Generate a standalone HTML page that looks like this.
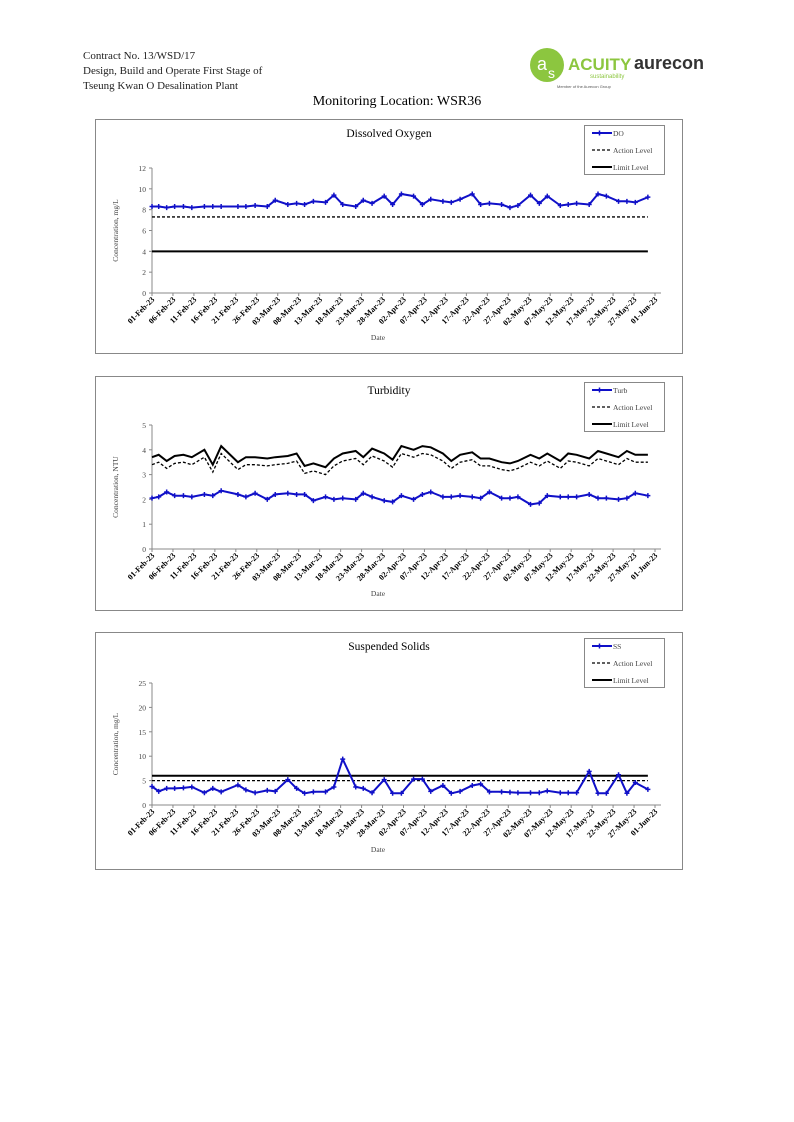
<!DOCTYPE html>
<html><head><meta charset="utf-8"><style>
body{margin:0;background:#fff;}
#p{position:relative;width:794px;height:1122px;font-family:"Liberation Serif",serif;}
.hd{position:absolute;left:83px;top:49px;font-size:11px;line-height:15px;color:#222;}
svg{position:absolute;left:0;top:0}
</style></head><body><div id="p">
<div class="hd">Contract No. 13/WSD/17<br>Design, Build and Operate First Stage of<br>Tseung Kwan O Desalination Plant</div>
<svg id="s" width="794" height="1122" xmlns="http://www.w3.org/2000/svg" font-family="Liberation Serif, serif">
<circle cx="547" cy="65" r="17" fill="#8cc63f"/>
<text x="537" y="70" font-size="18" fill="#fff" font-family="Liberation Sans">a</text>
<text x="548" y="78" font-size="14" fill="#fff" font-family="Liberation Sans">s</text>
<text x="568" y="70" font-size="17" fill="#8cc63f" font-family="Liberation Sans" font-weight="bold">ACUITY</text>
<text x="590" y="78" font-size="6" fill="#8cc63f" font-family="Liberation Sans">sustainability</text>
<text x="557" y="88" font-size="4" fill="#555" font-family="Liberation Sans">Member of the Aurecon Group</text>
<text x="634" y="69" font-size="18" fill="#333" font-family="Liberation Sans" font-weight="bold">aurecon</text>
<text x="397" y="105" font-size="14" text-anchor="middle" fill="#000">Monitoring Location: WSR36</text>
</svg></div>
<script>
const S=document.getElementById('s');let h='';
const days=[0,1.6,3.5,5.4,7.5,9.5,12.5,14.5,16.5,20.5,22.4,24.6,27.5,29.4,32.4,34.5,36.4,38.5,41.4,43.4,45.5,48.6,50.4,52.5,55.4,57.4,59.5,62.4,64.5,66.5,69.4,71.4,73.5,76.4,78.4,80.5,83.4,85.4,87.3,90.3,92.4,94.3,97.4,99.3,101.3,104.3,106.4,108.4,111.3,113.3,115.3,118.3];
const DO=[8.3,8.3,8.2,8.3,8.3,8.2,8.3,8.3,8.3,8.3,8.3,8.4,8.3,8.9,8.5,8.6,8.5,8.8,8.7,9.4,8.5,8.3,8.9,8.6,9.3,8.5,9.5,9.3,8.5,9.0,8.8,8.7,9.0,9.5,8.5,8.6,8.5,8.2,8.4,9.4,8.6,9.3,8.4,8.5,8.6,8.5,9.5,9.3,8.8,8.8,8.7,9.2];
const TU=[2.05,2.1,2.3,2.15,2.15,2.1,2.2,2.15,2.35,2.2,2.1,2.25,2.0,2.2,2.25,2.2,2.2,1.95,2.1,2.0,2.05,2.0,2.25,2.1,1.95,1.9,2.15,2.0,2.2,2.3,2.1,2.1,2.15,2.1,2.05,2.3,2.05,2.05,2.1,1.8,1.85,2.15,2.1,2.1,2.1,2.2,2.05,2.05,2.0,2.05,2.25,2.15];
const LI=[3.7,3.8,3.55,3.75,3.8,3.7,4.0,3.4,4.15,3.5,3.7,3.7,3.65,3.7,3.75,3.85,3.35,3.45,3.3,3.65,3.85,3.95,3.7,4.05,3.85,3.6,4.15,4.0,4.15,4.1,3.85,3.55,3.8,3.9,3.65,3.65,3.5,3.45,3.55,3.8,3.65,3.85,3.55,3.85,3.8,3.65,3.95,3.85,3.7,3.95,3.8,3.8];
const AC=LI.map(v=>v-0.3);
const SS=[3.8,2.8,3.4,3.4,3.5,3.7,2.5,3.4,2.7,4.1,3.1,2.5,3.0,2.8,5.2,3.4,2.4,2.7,2.7,3.7,9.4,3.7,3.4,2.5,5.2,2.4,2.4,5.3,5.3,2.8,4.0,2.4,2.8,4.0,4.3,2.7,2.7,2.6,2.5,2.5,2.5,2.9,2.5,2.5,2.5,6.9,2.4,2.4,6.2,2.4,4.6,3.2];
const dl=['01-Feb-23','06-Feb-23','11-Feb-23','16-Feb-23','21-Feb-23','26-Feb-23','03-Mar-23','08-Mar-23','13-Mar-23','18-Mar-23','23-Mar-23','28-Mar-23','02-Apr-23','07-Apr-23','12-Apr-23','17-Apr-23','22-Apr-23','27-Apr-23','02-May-23','07-May-23','12-May-23','17-May-23','22-May-23','27-May-23','01-Jun-23'];
function chart(o){
 const X0=152,X1=655,bt=o.top,y0=o.y0,y1=o.y1,mx=o.max,st=o.step;
 const X=d=>X0+(X1-X0)*d/120,Y=v=>y0-(y0-y1)*v/mx;
 h+=`<rect x="95.5" y="${bt+.5}" width="587" height="${o.h}" fill="#fff" stroke="#888"/>`;
 h+=`<text x="389" y="${bt+18}" font-size="11.5" text-anchor="middle">${o.t}</text>`;
 h+=`<line x1="${X0}" y1="${y1}" x2="${X0}" y2="${y0}" stroke="#888"/><line x1="${X0}" y1="${y0}" x2="${X1+6}" y2="${y0}" stroke="#888"/>`;
 for(let v=0;v<=mx;v+=st){h+=`<line x1="${X0-3}" x2="${X0}" y1="${Y(v)}" y2="${Y(v)}" stroke="#888"/><text x="${X0-6}" y="${Y(v)+3}" font-size="7.5" text-anchor="end" fill="#444">${v}</text>`;}
 dl.forEach((l,i)=>{const x=X(i*120/24);h+=`<line x1="${x}" x2="${x}" y1="${y0}" y2="${y0+3}" stroke="#888"/><text transform="translate(${x+3},${y0+7}) rotate(-45)" font-size="8" font-weight="bold" text-anchor="end">${l}</text>`;});
 h+=`<text x="378" y="${y0+47}" font-size="7.5" text-anchor="middle" fill="#444">Date</text>`;
 const my=(y0+y1)/2;h+=`<text transform="translate(118,${my}) rotate(-90)" font-size="7.5" text-anchor="middle" fill="#444">${o.yl}</text>`;
 const pl=(a,attr)=>{h+=`<polyline fill="none" ${attr} points="${a.map((v,i)=>X(days[i]).toFixed(1)+','+Y(v).toFixed(1)).join(' ')}"/>`;};
 if(o.lim){pl(o.lim,'stroke="#000" stroke-width="2"');pl(o.act,'stroke="#000" stroke-width="1.3" stroke-dasharray="3,2"');}
 else{const xe=X(118.3);h+=`<line x1="${X0}" x2="${xe}" y1="${Y(o.L)}" y2="${Y(o.L)}" stroke="#000" stroke-width="2"/><line x1="${X0}" x2="${xe}" y1="${Y(o.A)}" y2="${Y(o.A)}" stroke="#000" stroke-width="1.3" stroke-dasharray="3,2"/>`;}
 pl(o.d,'stroke="#1010c8" stroke-width="2"');
 o.d.forEach((v,i)=>{h+=`<path d="M${X(days[i])-2.5},${Y(v)}h5M${X(days[i])},${Y(v)-2.5}v5" stroke="#1010c8" stroke-width="1.5"/>`;});
 const lx=584,ly=bt+6;h+=`<rect x="${lx}.5" y="${ly}.5" width="80" height="49" fill="#fff" stroke="#888"/>`;
 [[o.n,'stroke="#1010c8" stroke-width="2"'],['Action Level','stroke="#000" stroke-width="1.3" stroke-dasharray="3,2"'],['Limit Level','stroke="#000" stroke-width="2"']].forEach((e,i)=>{const yy=ly+8+i*17;h+=`<line x1="${lx+8}" x2="${lx+28}" y1="${yy}" y2="${yy}" ${e[1]}/><text x="${lx+29}" y="${yy+3}" font-size="7.5" fill="#444">${e[0]}</text>`;if(i==0)h+=`<path d="M${lx+15.5},${yy-2.5}v5M${lx+13},${yy}h5" stroke="#1010c8" stroke-width="1.5"/>`;});
}
chart({top:119,h:234,t:'Dissolved Oxygen',y0:293,y1:168,max:12,step:2,yl:'Concentration, mg/L',d:DO,L:4,A:7.3,n:'DO'});
chart({top:376,h:234,t:'Turbidity',y0:549,y1:425,max:5,step:1,yl:'Concentration, NTU',d:TU,lim:LI,act:AC,n:'Turb'});
chart({top:632,h:237,t:'Suspended Solids',y0:805,y1:683,max:25,step:5,yl:'Concentration, mg/L',d:SS,L:6,A:5,n:'SS'});
S.insertAdjacentHTML('beforeend',h);
</script></body></html>
